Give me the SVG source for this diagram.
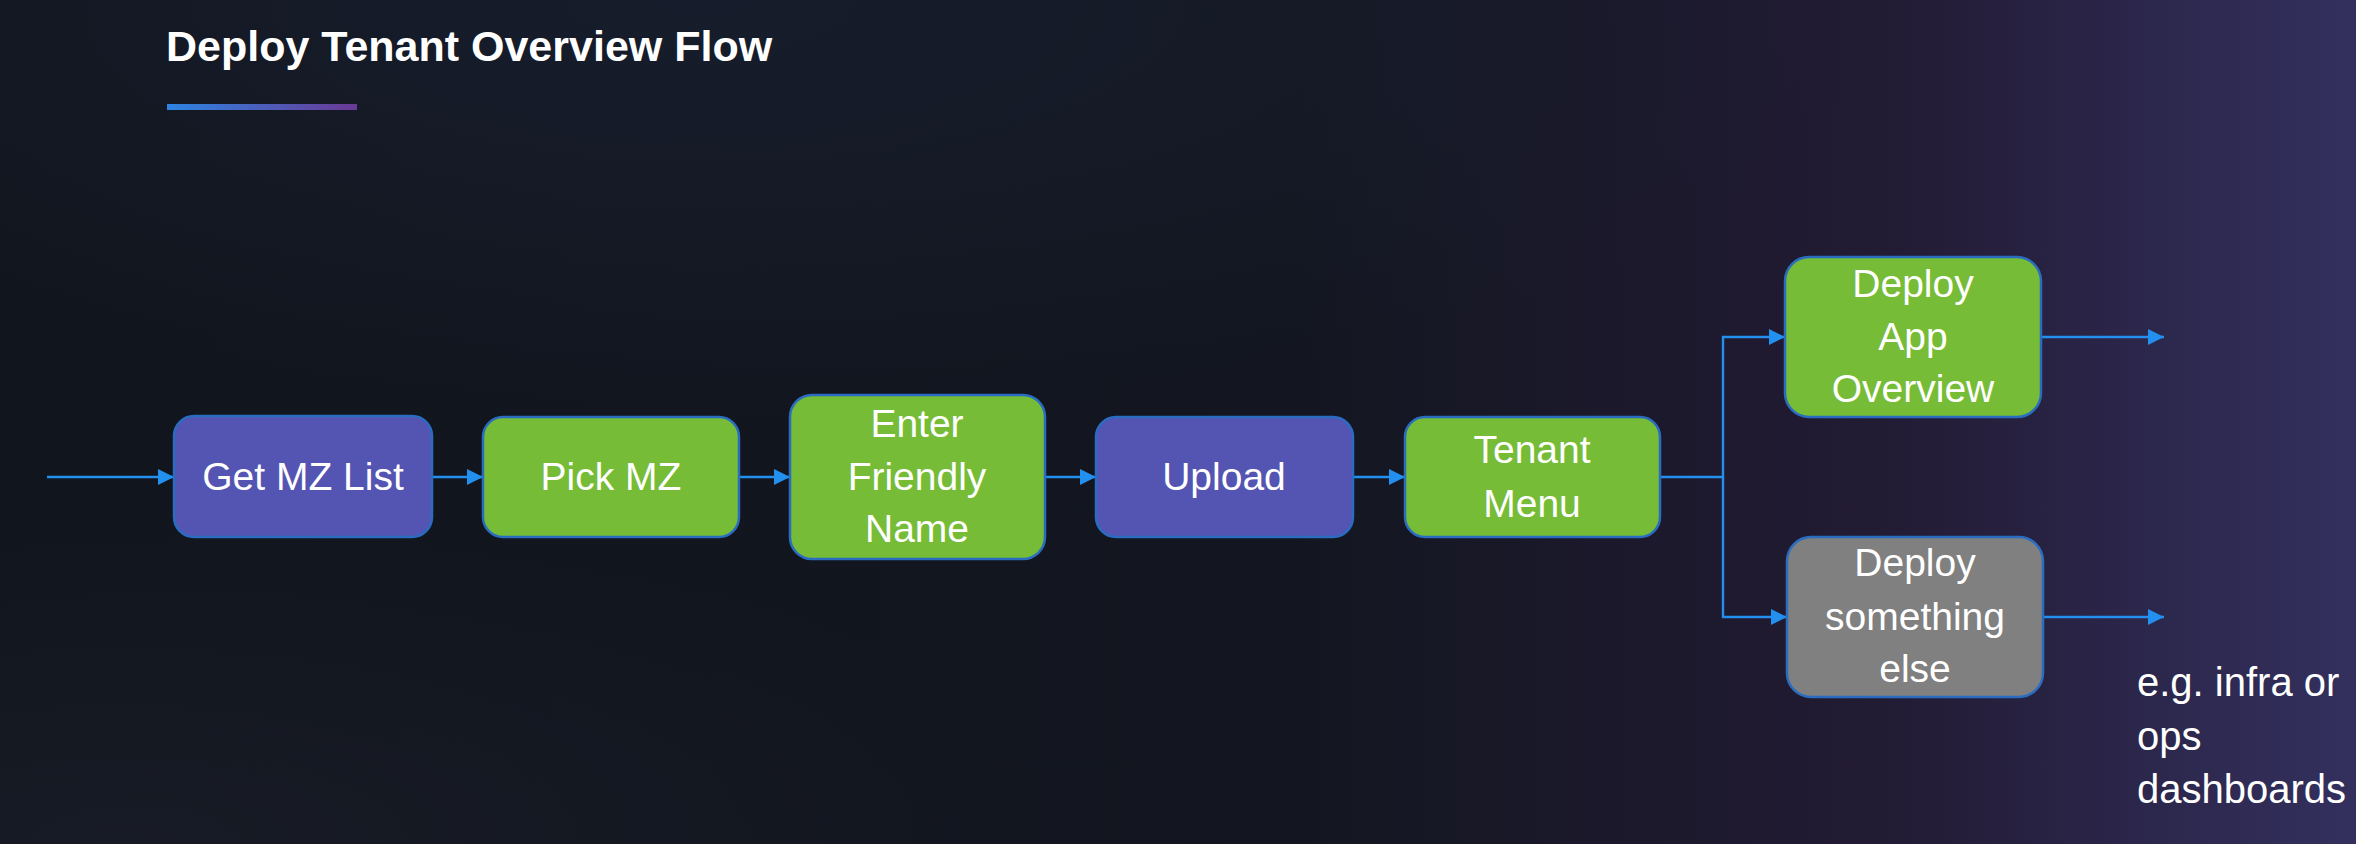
<svg xmlns="http://www.w3.org/2000/svg" width="2356" height="844" viewBox="0 0 2356 844">
  <defs>
    <linearGradient id="bg" x1="0" y1="0" x2="1" y2="0">
      <stop offset="0" stop-color="#11151d"/>
      <stop offset="0.55" stop-color="#131620"/>
      <stop offset="0.8" stop-color="#221b34"/>
      <stop offset="1" stop-color="#33305e"/>
    </linearGradient>
    <radialGradient id="glow1" cx="0.3" cy="0" r="0.5">
      <stop offset="0" stop-color="#182031" stop-opacity="0.7"/>
      <stop offset="1" stop-color="#182031" stop-opacity="0"/>
    </radialGradient>
    <radialGradient id="glow2" cx="0.05" cy="1" r="0.4">
      <stop offset="0" stop-color="#1a1d28" stop-opacity="0.7"/>
      <stop offset="1" stop-color="#1a1d28" stop-opacity="0"/>
    </radialGradient>
    <linearGradient id="ul" x1="0" y1="0" x2="1" y2="0">
      <stop offset="0" stop-color="#2c84e2"/>
      <stop offset="1" stop-color="#6a3995"/>
    </linearGradient>
    <marker id="arr" viewBox="0 0 16 16" refX="16" refY="8" markerWidth="16" markerHeight="16" markerUnits="userSpaceOnUse" orient="auto">
      <path d="M0,0 L16,8 L0,16 Z" fill="#2390f0"/>
    </marker>
    <style>
      .box { stroke: #2a6cc0; stroke-width: 2.5; }
      .purple { fill: #5454b3; }
      .green { fill: #76bc37; }
      .grey { fill: #808080; }
      .lbl { font-family: "Liberation Sans", Arial, sans-serif; font-size: 39px; fill: #ffffff; text-anchor: middle; }
      .note { font-family: "Liberation Sans", Arial, sans-serif; font-size: 40px; fill: #ffffff; }
      .title { font-family: "Liberation Sans", Arial, sans-serif; font-size: 43px; font-weight: bold; fill: #ffffff; }
      .conn { fill: none; stroke: #2390f0; stroke-width: 2.4; }
    </style>
  </defs>

  <rect x="0" y="0" width="2356" height="844" fill="url(#bg)"/>
  <rect x="0" y="0" width="2356" height="844" fill="url(#glow1)"/>
  <rect x="0" y="0" width="2356" height="844" fill="url(#glow2)"/>

  <g id="title">
    <text class="title" x="166" y="61">Deploy Tenant Overview Flow</text>
    <rect x="167" y="104" width="190" height="6" fill="url(#ul)"/>
  </g>

  <g id="connectors">
    <line class="conn" x1="47" y1="477" x2="174" y2="477" marker-end="url(#arr)"/>
    <line class="conn" x1="432" y1="477" x2="483" y2="477" marker-end="url(#arr)"/>
    <line class="conn" x1="739" y1="477" x2="790" y2="477" marker-end="url(#arr)"/>
    <line class="conn" x1="1045" y1="477" x2="1096" y2="477" marker-end="url(#arr)"/>
    <line class="conn" x1="1353" y1="477" x2="1405" y2="477" marker-end="url(#arr)"/>
    <polyline class="conn" points="1660,477 1723,477 1723,337 1785,337" marker-end="url(#arr)"/>
    <polyline class="conn" points="1723,477 1723,617 1787,617" marker-end="url(#arr)"/>
    <line class="conn" x1="2041" y1="337" x2="2164" y2="337" marker-end="url(#arr)"/>
    <line class="conn" x1="2043" y1="617" x2="2164" y2="617" marker-end="url(#arr)"/>
  </g>

  <g id="get-mz-list">
    <rect class="box purple" x="174" y="416" width="258" height="121" rx="20"/>
    <text class="lbl" x="303" y="490">Get MZ List</text>
  </g>

  <g id="pick-mz">
    <rect class="box green" x="483" y="417" width="256" height="120" rx="20"/>
    <text class="lbl" x="611" y="490">Pick MZ</text>
  </g>

  <g id="enter-friendly-name">
    <rect class="box green" x="790" y="395" width="255" height="164" rx="22"/>
    <text class="lbl" x="917" y="437">Enter</text>
    <text class="lbl" x="917" y="490">Friendly</text>
    <text class="lbl" x="917" y="542">Name</text>
  </g>

  <g id="upload">
    <rect class="box purple" x="1096" y="417" width="257" height="120" rx="20"/>
    <text class="lbl" x="1224" y="490">Upload</text>
  </g>

  <g id="tenant-menu">
    <rect class="box green" x="1405" y="417" width="255" height="120" rx="20"/>
    <text class="lbl" x="1532" y="463">Tenant</text>
    <text class="lbl" x="1532" y="517">Menu</text>
  </g>

  <g id="deploy-app-overview">
    <rect class="box green" x="1785" y="257" width="256" height="160" rx="24"/>
    <text class="lbl" x="1913" y="297">Deploy</text>
    <text class="lbl" x="1913" y="350">App</text>
    <text class="lbl" x="1913" y="402">Overview</text>
  </g>

  <g id="deploy-something-else">
    <rect class="box grey" x="1787" y="537" width="256" height="160" rx="24"/>
    <text class="lbl" x="1915" y="576">Deploy</text>
    <text class="lbl" x="1915" y="630">something</text>
    <text class="lbl" x="1915" y="682">else</text>
  </g>

  <g id="note">
    <text class="note" x="2137" y="696">e.g. infra or</text>
    <text class="note" x="2137" y="750">ops</text>
    <text class="note" x="2137" y="803">dashboards</text>
  </g>
</svg>
